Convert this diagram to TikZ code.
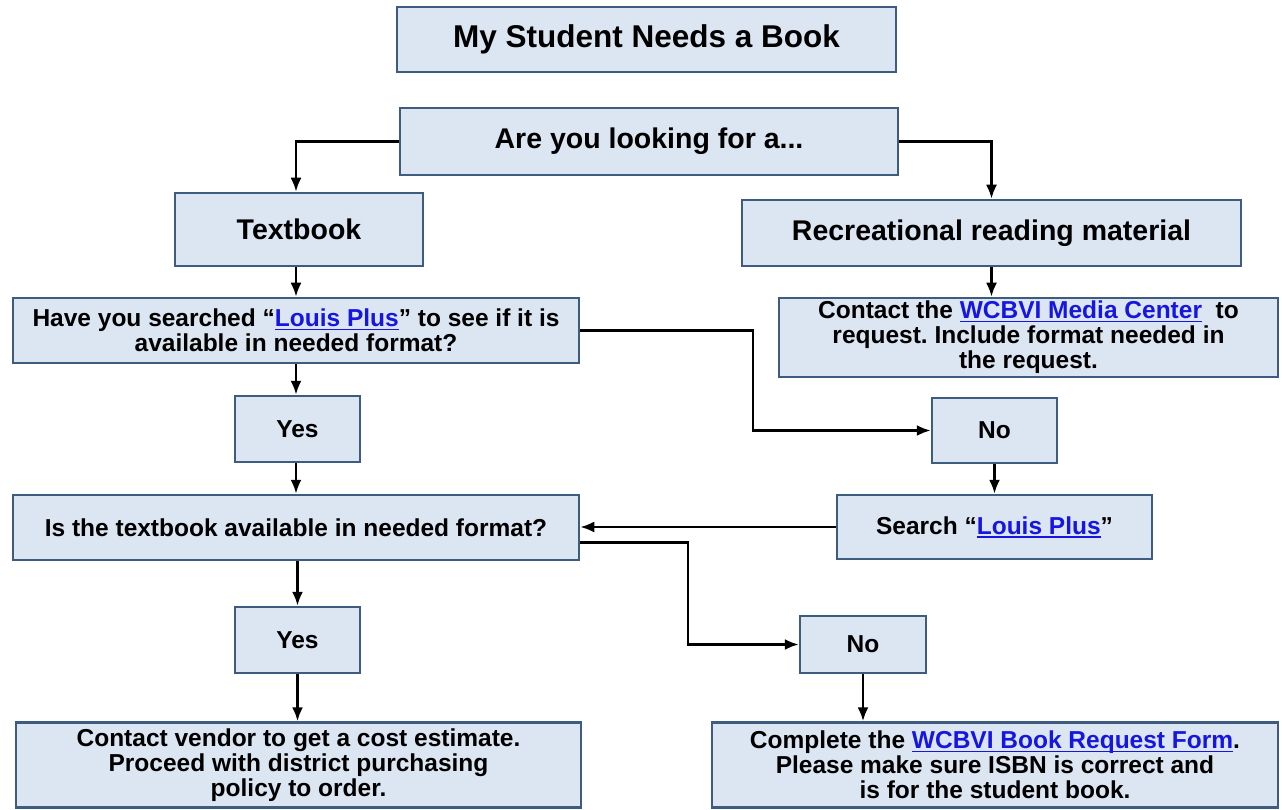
\documentclass[tikz,border=0pt]{standalone}
\usepackage{fontspec}
\setmainfont{Liberation Sans}
\frenchspacing
\usepackage{tikz}
\usetikzlibrary{arrows.meta}
\tikzset{>={Latex[length=14pt,width=11pt]}}
\usepackage{xcolor}
\definecolor{boxfill}{RGB}{220,230,242}
\definecolor{boxline}{RGB}{62,92,128}
\definecolor{linkcol}{RGB}{22,22,225}
\tikzstyle{flowbox}=[draw=boxline,fill=boxfill,line width=2.5pt,inner sep=0pt,align=center,font=\bfseries\fontsize{24.5}{25}\selectfont]
\tikzstyle{headbox}=[flowbox,font=\bfseries\fontsize{28.5}{30}\selectfont]
\tikzstyle{flow}=[->,line width=2.5pt,black]
\newcommand{\lnk}[1]{{\color{linkcol}\setbox0\hbox{#1}\rlap{\copy0}\rule[-3.5pt]{\wd0}{1.2pt}}}

\begin{document}
\begin{tikzpicture}[x=1pt,y=-1pt]
  \useasboundingbox (0,0) rectangle (1282,810);
  \def\wide{566pt}
  \def\small{125pt}

  % top
  \node[headbox,font=\bfseries\fontsize{31.5}{32}\selectfont,minimum width=499pt,minimum height=65pt]
    (title) at (646.5,39.5) {My Student Needs a Book};
  \node[headbox,minimum width=498pt,minimum height=67pt] (ask) at (649,141.5) {Are you looking for a...};
  \node[headbox,minimum width=248pt,minimum height=73pt] (text) at (299,229.5) {Textbook};
  \node[headbox,minimum width=499pt,minimum height=66pt] (recr) at (991.5,233) {Recreational reading material};

  % left column
  \node[flowbox,minimum width=\wide,minimum height=65pt] (have) at (296,330.5)
    {Have you searched “\lnk{Louis Plus}” to see if it is\\available in needed format?};
  \node[flowbox,minimum width=\small,minimum height=66pt] (yesA) at (297.5,429) {Yes};
  \node[flowbox,minimum width=\wide,minimum height=65pt] (avail) at (296,527.5)
    {Is the textbook available in needed format?};
  \node[flowbox,minimum width=\small,minimum height=66pt] (yesB) at (297.5,640) {Yes};
  \node[flowbox,minimum width=565pt,minimum height=85pt] (vendor) at (298.5,765)
    {Contact vendor to get a cost estimate.\\Proceed with district purchasing\\policy to order.};

  % right column
  \node[flowbox,minimum width=499pt,minimum height=79pt] (media) at (1028.5,337.5)
    {Contact the \lnk{WCBVI Media Center}\ \ to\\request. Include format needed in\\the request.};
  \node[flowbox,minimum width=\small,minimum height=65pt] (noA) at (994.5,430.5) {No};
  \node[flowbox,minimum width=315pt,minimum height=64pt] (louis) at (994.5,527) {Search “\lnk{Louis Plus}”};
  \node[flowbox,minimum width=126pt,minimum height=57pt] (noB) at (863,644.5) {No};
  \node[flowbox,minimum width=\wide,minimum height=85pt] (complete) at (995,765)
    {Complete the \lnk{WCBVI Book Request Form}.\\Please make sure ISBN is correct and\\is for the student book.};

  \coordinate (bendA) at (753,0);
  \coordinate (bendB) at (688,0);

  % connectors
  \draw[flow] (ask.west) -| (have.north |- text.north);
  \draw[flow] (ask.east) -| (recr.north);
  \draw[flow] (have.north |- text.south) -- (have.north);
  \draw[flow] (recr.south) -- (recr.south |- media.north);
  \draw[flow] (have.east) -| (bendA |- noA.west) -- (noA.west);
  \draw[flow] (have.south) -- (have.south |- yesA.north);
  \draw[flow] (avail.north |- yesA.south) -- (avail.north);
  \draw[flow] (noA.south) -- (louis.north);
  \draw[flow] (louis.west) -- (louis.west -| avail.east);
  \draw[flow] ([yshift=-15pt]avail.east) -| (bendB |- noB.west) -- (noB.west);
  \draw[flow] (yesB.north |- avail.south) -- (yesB.north);
  \draw[flow] (yesB.south) -- (yesB.south |- vendor.north);
  \draw[flow] (noB.south) -- (noB.south |- complete.north);
\end{tikzpicture}
\end{document}
